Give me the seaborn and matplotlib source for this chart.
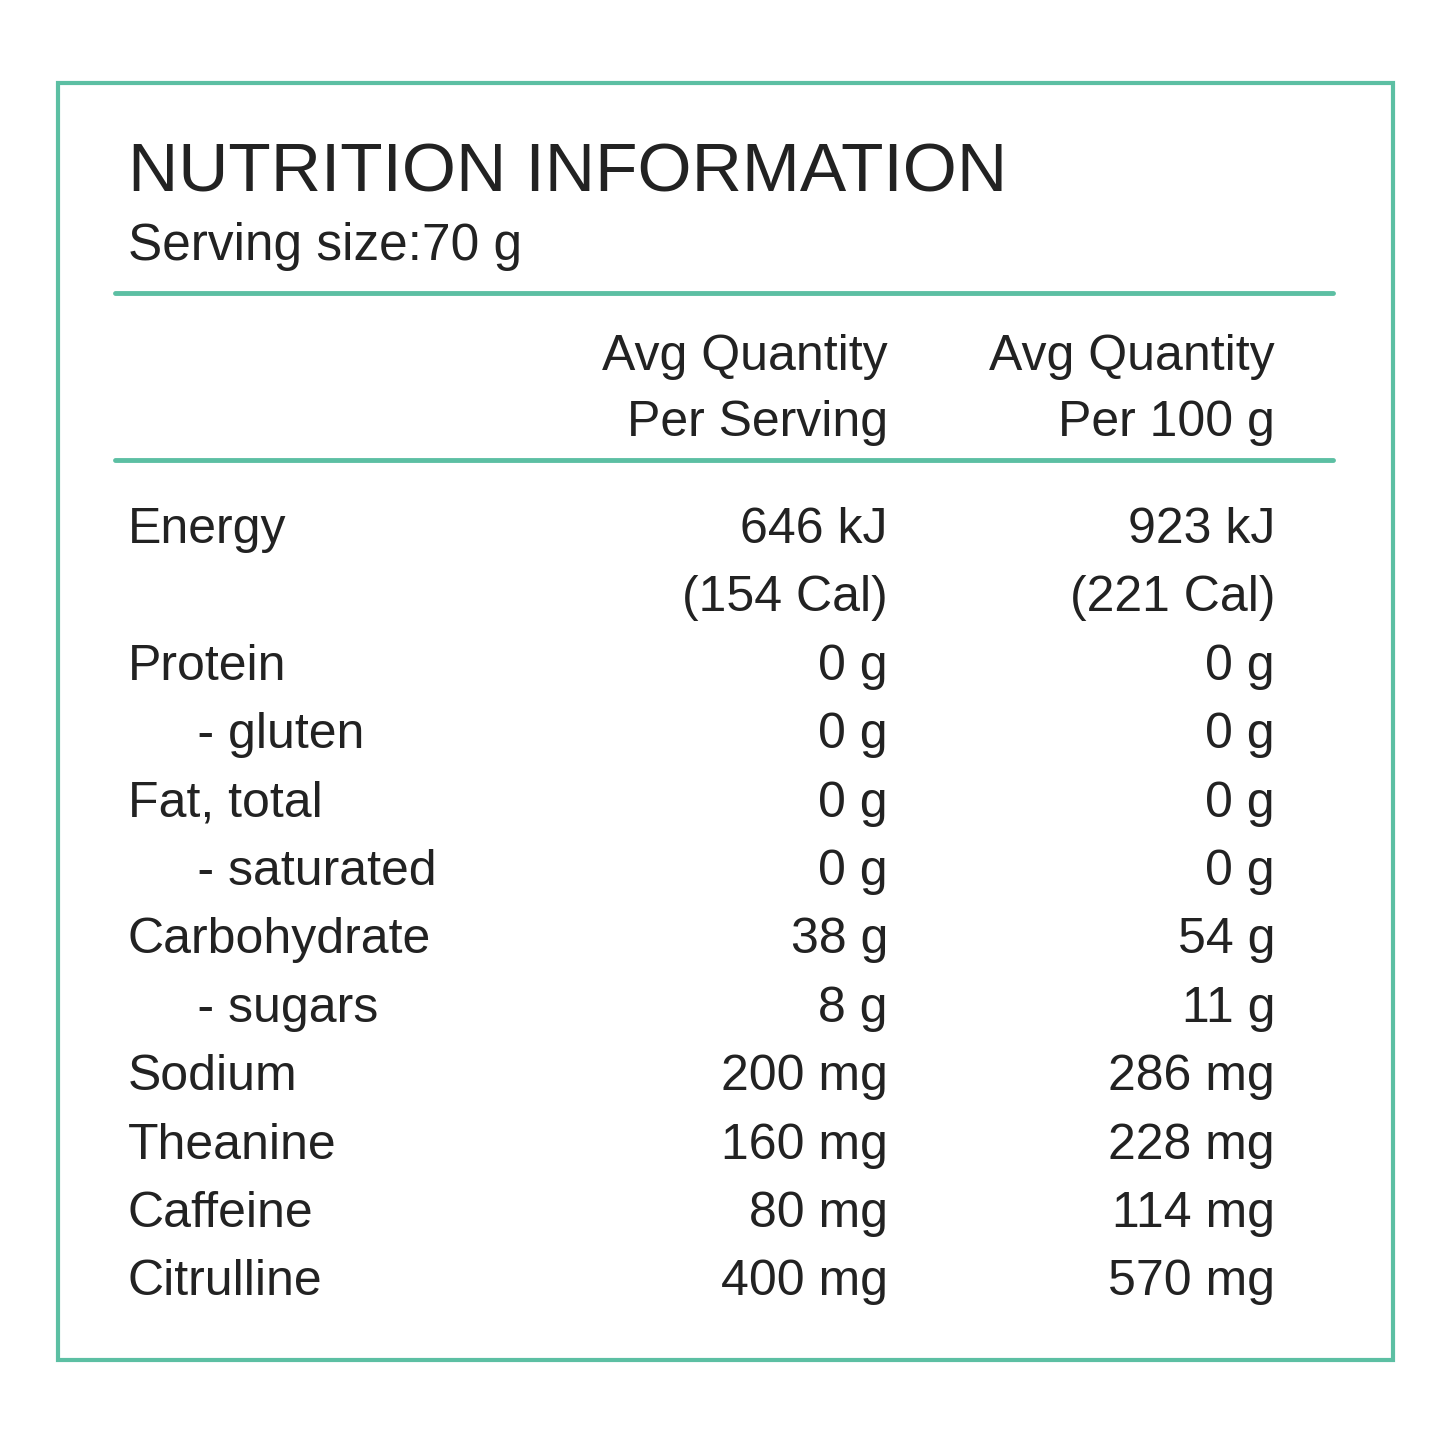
import matplotlib
matplotlib.use('Agg')
import matplotlib.pyplot as plt
import seaborn as sns

sns.set_theme(style="white")
plt.rcParams['font.family'] = ['Liberation Sans Narrow', 'Liberation Sans', 'DejaVu Sans']

title = "NUTRITION INFORMATION"
serving = "Serving size:70 g"
col_heads = [("Avg Quantity", "Per Serving"), ("Avg Quantity", "Per 100 g")]
nutrients = ["Energy", "", "Protein", "     - gluten", "Fat, total", "     - saturated",
             "Carbohydrate", "     - sugars", "Sodium", "Theanine", "Caffeine", "Citrulline"]
per_serving = ["646 kJ", "(154 Cal)", "0 g", "0 g", "0 g", "0 g",
               "38 g", "8 g", "200 mg", "160 mg", "80 mg", "400 mg"]
per_100g = ["923 kJ", "(221 Cal)", "0 g", "0 g", "0 g", "0 g",
            "54 g", "11 g", "286 mg", "228 mg", "114 mg", "570 mg"]

teal = "#5cbfa3"
ink = "#222222"

fig = plt.figure(figsize=(14.45, 14.45), dpi=100)
ax = fig.add_axes([0, 0, 1, 1])
ax.set_xlim(0, 1445)
ax.set_ylim(1445, 0)
ax.axis('off')

ax.add_patch(plt.Rectangle((58, 83), 1335, 1277, fill=False, edgecolor=teal, lw=3))
ax.plot([115, 1333], [293, 293], color=teal, lw=3.5)
ax.plot([115, 1333], [460, 460], color=teal, lw=3.5)

ax.text(128, 192, title, fontsize=50, color=ink, va='baseline')
ax.text(128, 260, serving, fontsize=37, color=ink, va='baseline')
for xr, (l1, l2) in zip([888, 1275], col_heads):
    ax.text(xr, 370, l1, fontsize=36, color=ink, ha='right', va='baseline')
    ax.text(xr, 436, l2, fontsize=36, color=ink, ha='right', va='baseline')

y0, step = 543, 68.4
for i, (n, a, b) in enumerate(zip(nutrients, per_serving, per_100g)):
    y = y0 + i * step
    ax.text(128, y, n, fontsize=36, color=ink, va='baseline')
    ax.text(888, y, a, fontsize=36, color=ink, ha='right', va='baseline')
    ax.text(1275, y, b, fontsize=36, color=ink, ha='right', va='baseline')

fig.savefig("out.png", dpi=100, facecolor='white')
